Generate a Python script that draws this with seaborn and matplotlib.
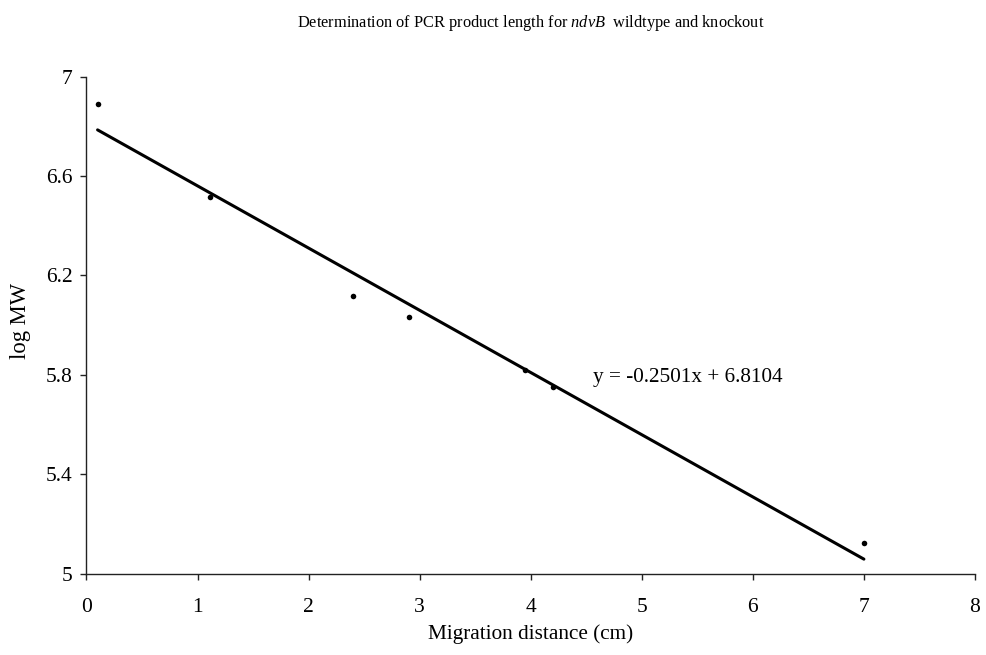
import matplotlib
matplotlib.use("Agg")
import matplotlib.pyplot as plt
import pandas as pd
import seaborn as sns

# Standard curve: migration distance of size markers vs log molecular weight
distance_cm = [0.1, 1.11, 2.4, 2.9, 3.95, 4.2, 7.0]
log_mw = [6.89, 6.514, 6.118, 6.034, 5.82, 5.75, 5.123]

# Linear fit reported on the chart
slope = -0.2501
intercept = 6.8104

x_ticks = [0, 1, 2, 3, 4, 5, 6, 7, 8]
y_ticks = [5.0, 5.4, 5.8, 6.2, 6.6, 7.0]
y_tick_labels = ["5", "5.4", "5.8", "6.2", "6.6", "7"]

sns.set_theme(style="ticks")
plt.rcParams["font.family"] = ["Liberation Serif", "DejaVu Serif"]
plt.rcParams["mathtext.fontset"] = "custom"
plt.rcParams["mathtext.rm"] = "Liberation Serif"
plt.rcParams["mathtext.it"] = "Liberation Serif:italic"

fig = plt.figure(figsize=(9.86, 6.55), dpi=100)
ax = fig.add_axes([0.0877, 0.1237, 0.9011, 0.7595])

points = pd.DataFrame({"distance": distance_cm, "logmw": log_mw})
fit_x = [min(distance_cm), max(distance_cm)]
fit = pd.DataFrame({"distance": fit_x,
                    "logmw": [slope * x + intercept for x in fit_x]})

sns.lineplot(data=fit, x="distance", y="logmw", color="black",
             linewidth=2.2, ax=ax, zorder=2)
sns.scatterplot(data=points, x="distance", y="logmw", color="black",
                s=16, linewidth=0, ax=ax, zorder=3)

ax.set_xlim(0, 8)
ax.set_ylim(5, 7)
ax.set_xticks(x_ticks)
ax.set_xticklabels([str(t) for t in x_ticks])
ax.set_yticks(y_ticks)
ax.set_yticklabels(y_tick_labels)

for side in ("top", "right"):
    ax.spines[side].set_visible(False)
for side in ("left", "bottom"):
    ax.spines[side].set_color("#222222")
    ax.spines[side].set_linewidth(1.0)

ax.tick_params(axis="both", direction="out", length=4, width=1.0,
               color="#222222", labelsize=15.5, labelcolor="black")
ax.tick_params(axis="x", pad=13)
ax.tick_params(axis="y", pad=6)

ax.set_xlabel("Migration distance (cm)", fontsize=15.3, color="black")
ax.set_ylabel("log MW", fontsize=16.3, color="black")
ax.xaxis.set_label_coords(0.5, -0.102)
ax.yaxis.set_label_coords(-0.062, 0.508)

ax.text(4.56, 5.79, f"y = {slope:.4f}x + {intercept:.4f}",
        fontsize=15.3, ha="left", va="center", color="black")

fig.text(0.5385, 0.965,
         r"Determination of PCR product length for $\it{ndvB}$  wildtype and knockout",
         fontsize=11.8, ha="center", va="center", color="black")

fig.savefig("out.png", dpi=100, facecolor="white")
